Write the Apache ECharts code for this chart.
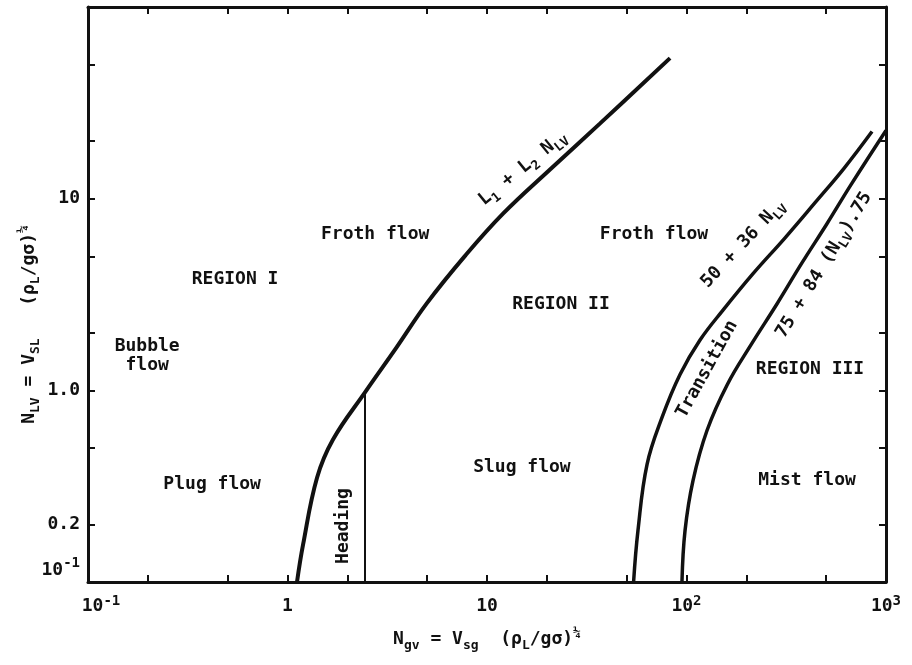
<!DOCTYPE html>
<html><head><meta charset="utf-8">
<script src="https://cdn.jsdelivr.net/npm/echarts@6/dist/echarts.min.js"></script>
<style>html,body{margin:0;padding:0;background:#fff}#c{width:912px;height:665px}</style>
</head><body><div id="c"></div>
<script>
// ---- tick / label values ----
const xTickValues = [0.2, 0.5, 1, 2, 5, 10, 20, 50, 100, 200, 500];
const xLabelValues = [0.1, 1, 10, 100, 1000];
const yTickValues = [0.2, 0.5, 1, 2, 5, 10, 20, 50];
const yLabelValues = [0.1, 0.2, 1, 10];

// ---- boundary curves [Ngv, NLV] ----
const boundaryL1L2 = [[1.116,0.1],[1.196,0.156],[1.406,0.35],[1.691,0.554],[2.446,0.976],[3.50,1.66],[5.00,2.85],[7.76,5.03],[12.03,8.35],[20.7,14.2],[36.9,24.7],[82.7,54.1]];
const boundary50_36 = [[54.3,0.1],[57.1,0.185],[63.4,0.41],[75.4,0.722],[92.8,1.21],[116.9,1.83],[152.4,2.62],[215,4.05],[312,6.25],[441,9.53],[616,14.4],[851,22.4]];
const boundary75_84 = [[94.9,0.1],[98.3,0.185],[107.8,0.338],[126.7,0.617],[160,1.07],[210,1.72],[284,2.82],[379,4.62],[506,7.40],[668,11.84],[1000,22.7]];
const headingLine = [[2.446,0.1],[2.446,0.976]];

// ---- annotations: text, Ngv, NLV, rotation ----
const annotationTexts = ['{b|Froth flow}','{b|REGION I}','{m|Bubble}\n{m|flow}','{b|Plug flow}','{b|Heading}','{b|Slug flow}','{b|REGION II}','{b|Froth flow}','{b|50 + 36 N}{s|LV}','{b|Transition}','{b|75 + 84 (N}{s|LV}{b|).75}','{b|REGION III}','{b|Mist flow}','{b|L}{s|1}{b| + L}{s|2}{b| N}{s|LV}'];
const annotationX = [2.75, 0.546, 0.198, 0.419, 1.90, 14.96, 23.5, 68.7, 192, 127, 489, 416, 402, 15.1];
const annotationY = [6.48, 3.81, 1.51, 0.322, 0.196, 0.395, 2.82, 6.48, 5.81, 1.29, 4.51, 1.29, 0.338, 14.4];
const annotationRotate = [0, 0, 0, 0, 90, 0, 0, 0, 47, 61, 58.5, 0, 0, 39];

const FONT = '"DejaVu Sans Mono", "Liberation Mono", monospace';
const INK = '#111';
const tok = (size, lh, extra) => Object.assign({fontFamily: FONT, fontWeight: 'bold', fontSize: size, color: INK, lineHeight: lh, textBorderWidth: 0, opacity: 1}, extra || {});
const rich = {
  b: tok(18, 26),
  m: tok(18, 19),
  s: tok(13, 26, {verticalAlign: 'bottom'}),
  p: tok(13, 26, {verticalAlign: 'top'})
};
const axisRich = {
  b: tok(18, 24),
  bl: tok(18, 24, {padding: [0, 0, 0, 26]}),
  sup: tok(14, 24, {verticalAlign: 'top'}),
  lo: tok(18, 52, {verticalAlign: 'top', padding: [5, 0, 0, 0]}),
  losup: tok(14, 52, {verticalAlign: 'top'})
};
const near = (a, b) => Math.abs(a - b) < 1e-6 * Math.max(1, b);
function xFmt(v) {
  if (near(v, 0.1)) return '{bl|10}{sup|-1}';
  if (near(v, 1)) return '{b|1}';
  if (near(v, 10)) return '{b|10}';
  if (near(v, 100)) return '{b|10}{sup|2}';
  if (near(v, 1000)) return '{b|10}{sup|3}';
  return '';
}
function yFmt(v) {
  if (near(v, 0.1)) return '{lo|10}{losup|-1}';
  if (near(v, 0.2)) return '{b|0.2}';
  if (near(v, 1)) return '{b|1.0}';
  if (near(v, 10)) return '{b|10}';
  return '';
}
const axisLineStyle = {color: INK, width: 3};
const tickStyle = {color: INK, width: 2};

const option = {
  backgroundColor: '#fff',
  animation: false,
  grid: {left: 88, right: 26, top: 7, bottom: 83, containLabel: false},
  xAxis: [
    {type: 'log', logBase: 10, min: 0.1, max: 1000, position: 'bottom',
     axisLine: {show: true, lineStyle: axisLineStyle},
     axisTick: {show: true, inside: true, length: 7, lineStyle: tickStyle, customValues: xTickValues},
     axisLabel: {show: true, margin: 12, customValues: xLabelValues, formatter: xFmt, rich: axisRich},
     splitLine: {show: false}, minorTick: {show: false},
     name: '{b|N}{s|gv}{b| = V}{s|sg}{b|  (ρ}{s|L}{b|/gσ)}{p|¼}',
     nameLocation: 'middle', nameGap: 44, nameMoveOverlap: false, nameTextStyle: {rich: rich}},
    {type: 'log', logBase: 10, min: 0.1, max: 1000, position: 'top',
     axisLine: {show: true, lineStyle: axisLineStyle},
     axisTick: {show: true, inside: true, length: 7, lineStyle: tickStyle, customValues: xTickValues},
     axisLabel: {show: false}, splitLine: {show: false}}
  ],
  yAxis: [
    {type: 'log', logBase: 10, min: 0.1, max: 100, position: 'left',
     axisLine: {show: true, lineStyle: axisLineStyle},
     axisTick: {show: true, inside: true, length: 7, lineStyle: tickStyle, customValues: yTickValues},
     axisLabel: {show: true, margin: 8, customValues: yLabelValues, formatter: yFmt, rich: axisRich},
     splitLine: {show: false}, minorTick: {show: false},
     name: '{b|N}{s|LV}{b| = V}{s|SL}{b|   (ρ}{s|L}{b|/gσ)}{p|¼}',
     nameLocation: 'middle', nameGap: 46, nameRotate: 90, nameMoveOverlap: false,
     nameTextStyle: {rich: rich, padding: [0, 60, 0, 0]}},
    {type: 'log', logBase: 10, min: 0.1, max: 100, position: 'right',
     axisLine: {show: true, lineStyle: axisLineStyle},
     axisTick: {show: true, inside: true, length: 7, lineStyle: tickStyle, customValues: yTickValues},
     axisLabel: {show: false}, splitLine: {show: false}}
  ],
  series: [
    {type: 'line', name: 'L1 + L2 NLV', data: boundaryL1L2, smooth: 0.4, showSymbol: false,
     lineStyle: {color: INK, width: 4}, xAxisIndex: 0, yAxisIndex: 0},
    {type: 'line', name: '50 + 36 NLV', data: boundary50_36, smooth: 0.4, showSymbol: false,
     lineStyle: {color: INK, width: 3.5}, xAxisIndex: 0, yAxisIndex: 0},
    {type: 'line', name: '75 + 84 NLV^.75', data: boundary75_84, smooth: 0.4, showSymbol: false,
     lineStyle: {color: INK, width: 3.5}, xAxisIndex: 0, yAxisIndex: 0},
    {type: 'line', name: 'Heading', data: headingLine, showSymbol: false,
     lineStyle: {color: INK, width: 2}, xAxisIndex: 0, yAxisIndex: 0},
    {type: 'scatter', name: 'labels', symbolSize: 0, itemStyle: {color: INK},
     silent: true, z: 5,
     label: {show: true, position: 'inside', rich: rich, color: INK, textBorderWidth: 0, opacity: 1},
     emphasis: {disabled: true},
     data: annotationTexts.map((t, i) => ({
       value: [annotationX[i], annotationY[i]],
       label: {formatter: t, rotate: annotationRotate[i]}
     }))}
  ]
};
const chart = echarts.init(document.getElementById('c'));
chart.setOption(option);
</script>
</body></html>
